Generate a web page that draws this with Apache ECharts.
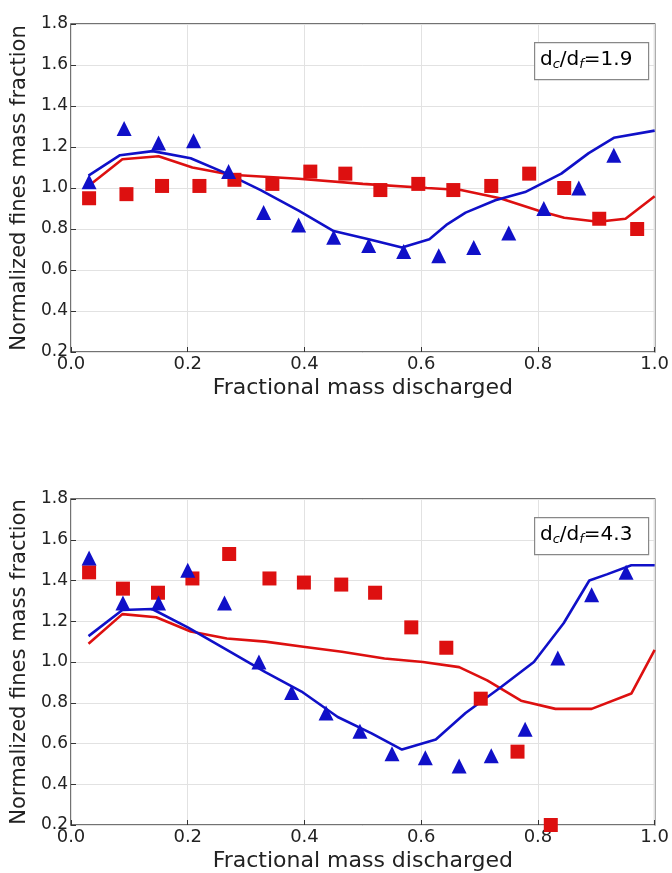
<!DOCTYPE html>
<html>
<head>
<meta charset="utf-8">
<script src="https://cdn.jsdelivr.net/npm/echarts@6/dist/echarts.min.js"></script>
<style>
  html, body { margin: 0; padding: 0; background: #fff; }
  #chart { width: 672px; height: 873px; }
</style>
</head>
<body>
<div id="chart"></div>
<script>
var chart = echarts.init(document.getElementById('chart'));

var fontName = 'DejaVu Sans';
var blue = '#1010c8';
var red = '#dd1010';

// top panel, dc/df = 1.9
var topTriX = [0.031, 0.091, 0.15, 0.21, 0.27, 0.33, 0.39, 0.45, 0.51, 0.57, 0.63, 0.69, 0.75, 0.81, 0.87, 0.93];
var topTriY = [1.03, 1.29, 1.22, 1.23, 1.08, 0.88, 0.82, 0.76, 0.72, 0.69, 0.67, 0.71, 0.78, 0.90, 1.00, 1.16];
var topSqX = [0.031, 0.095, 0.156, 0.22, 0.28, 0.345, 0.41, 0.47, 0.53, 0.595, 0.655, 0.72, 0.785, 0.845, 0.905, 0.97];
var topSqY = [0.95, 0.97, 1.01, 1.01, 1.04, 1.02, 1.08, 1.07, 0.99, 1.02, 0.99, 1.01, 1.07, 1.00, 0.85, 0.80];
var topBlueX = [0.03, 0.084, 0.14, 0.205, 0.267, 0.325, 0.39, 0.45, 0.51, 0.567, 0.614, 0.643, 0.676, 0.727, 0.778, 0.84, 0.887, 0.93, 1.0];
var topBlueY = [1.06, 1.16, 1.18, 1.145, 1.07, 0.99, 0.89, 0.79, 0.75, 0.71, 0.75, 0.82, 0.88, 0.94, 0.98, 1.07, 1.17, 1.245, 1.28];
var topRedX = [0.03, 0.088, 0.15, 0.208, 0.274, 0.39, 0.5, 0.61, 0.668, 0.735, 0.8, 0.845, 0.903, 0.95, 1.0];
var topRedY = [1.01, 1.14, 1.155, 1.10, 1.065, 1.045, 1.02, 1.0, 0.99, 0.95, 0.89, 0.855, 0.835, 0.85, 0.96];

// bottom panel, dc/df = 4.3
var botTriX = [0.031, 0.089, 0.15, 0.20, 0.263, 0.322, 0.378, 0.437, 0.495, 0.55, 0.607, 0.665, 0.72, 0.778, 0.834, 0.892, 0.951];
var botTriY = [1.51, 1.29, 1.29, 1.45, 1.29, 1.00, 0.85, 0.75, 0.66, 0.55, 0.53, 0.49, 0.54, 0.67, 1.02, 1.33, 1.44];
var botSqX = [0.031, 0.089, 0.149, 0.208, 0.271, 0.34, 0.399, 0.463, 0.521, 0.583, 0.643, 0.702, 0.765, 0.822];
var botSqY = [1.44, 1.36, 1.34, 1.41, 1.53, 1.41, 1.39, 1.38, 1.34, 1.17, 1.07, 0.82, 0.56, 0.2];
var botBlueX = [0.03, 0.088, 0.139, 0.20, 0.267, 0.333, 0.395, 0.457, 0.515, 0.567, 0.625, 0.676, 0.738, 0.793, 0.844, 0.888, 0.918, 0.96, 1.0];
var botBlueY = [1.127, 1.255, 1.26, 1.17, 1.06, 0.95, 0.855, 0.73, 0.65, 0.57, 0.62, 0.75, 0.88, 1.0, 1.19, 1.40, 1.43, 1.475, 1.475];
var botRedX = [0.03, 0.088, 0.146, 0.205, 0.267, 0.333, 0.398, 0.464, 0.537, 0.603, 0.665, 0.713, 0.771, 0.83, 0.892, 0.96, 1.0];
var botRedY = [1.09, 1.235, 1.22, 1.15, 1.115, 1.10, 1.075, 1.05, 1.017, 1.0, 0.975, 0.91, 0.81, 0.77, 0.77, 0.845, 1.06];

var ratioLabels = ['1.9', '4.3'];

function pairs(xs, ys) {
    return xs.map(function(x, i) { return [x, ys[i]]; });
}

function xAxisFor(idx) {
    return {
        type: 'value', gridIndex: idx, min: 0, max: 1, interval: 0.2,
        name: 'Fractional mass discharged', nameLocation: 'middle', nameGap: 25,
        nameTextStyle: { fontFamily: fontName, fontSize: 22, color: '#222' },
        axisLine: { show: false },
        axisTick: { show: true, inside: true, length: 5, lineStyle: { color: '#333' } },
        axisLabel: { fontFamily: fontName, fontSize: 18, color: '#222', margin: 3,
            formatter: function(v) { return v.toFixed(1); } },
        splitLine: { show: true, lineStyle: { color: '#e2e2e2', width: 1 } }
    };
}

function yAxisFor(idx) {
    return {
        type: 'value', gridIndex: idx, min: 0.2, max: 1.8, interval: 0.2,
        name: 'Normalized fines mass fraction', nameLocation: 'middle', nameGap: 37,
        nameTextStyle: { fontFamily: fontName, fontSize: 21, color: '#222' },
        axisLine: { show: false },
        axisTick: { show: true, inside: true, length: 5, lineStyle: { color: '#333' } },
        axisLabel: { fontFamily: fontName, fontSize: 17, color: '#222', margin: 3,
            formatter: function(v) { return v.toFixed(1); } },
        splitLine: { show: true, lineStyle: { color: '#e2e2e2', width: 1 } }
    };
}

function lineSeries(idx, xs, ys, color) {
    return {
        type: 'line', xAxisIndex: idx, yAxisIndex: idx, data: pairs(xs, ys),
        showSymbol: false, symbol: 'none', z: 2,
        lineStyle: { color: color, width: 2.6 }
    };
}

function markSeries(idx, xs, ys, color, shape) {
    return {
        type: 'scatter', xAxisIndex: idx, yAxisIndex: idx, data: pairs(xs, ys),
        symbol: shape, symbolSize: shape === 'rect' ? 14 : 15, z: 3,
        itemStyle: { color: color, opacity: 1 }
    };
}

function ratioBox(top, label) {
    return [
        { type: 'rect', left: 534, top: top, shape: { width: 114, height: 37 },
          style: { fill: '#fff', stroke: '#888', lineWidth: 1.2 }, z: 10 },
        { type: 'text', left: 540, top: top + 6, z: 11,
          style: {
              text: '{n|d}{s|c}{n|/d}{s|f}{n|=' + label + '}',
              rich: {
                  n: { fontFamily: fontName, fontSize: 20, color: '#222', lineHeight: 25 },
                  s: { fontFamily: fontName, fontSize: 13, fontStyle: 'italic', color: '#222',
                       lineHeight: 25, padding: [10, 0, 0, 0] }
              }
          } }
    ];
}

var option = {
    backgroundColor: '#fff',
    animation: false,
    grid: [
        { left: 71, top: 24, width: 586, height: 328, show: true, borderColor: '#444', borderWidth: 1.5, backgroundColor: 'transparent' },
        { left: 71, top: 499, width: 586, height: 329, show: true, borderColor: '#444', borderWidth: 1.5, backgroundColor: 'transparent' }
    ],
    xAxis: [xAxisFor(0), xAxisFor(1)],
    yAxis: [yAxisFor(0), yAxisFor(1)],
    graphic: ratioBox(42, ratioLabels[0]).concat(ratioBox(517, ratioLabels[1])),
    series: [
        lineSeries(0, topRedX, topRedY, red),
        lineSeries(0, topBlueX, topBlueY, blue),
        markSeries(0, topSqX, topSqY, red, 'rect'),
        markSeries(0, topTriX, topTriY, blue, 'triangle'),
        lineSeries(1, botRedX, botRedY, red),
        lineSeries(1, botBlueX, botBlueY, blue),
        markSeries(1, botSqX, botSqY, red, 'rect'),
        markSeries(1, botTriX, botTriY, blue, 'triangle')
    ]
};

chart.setOption(option);
</script>
</body>
</html>
